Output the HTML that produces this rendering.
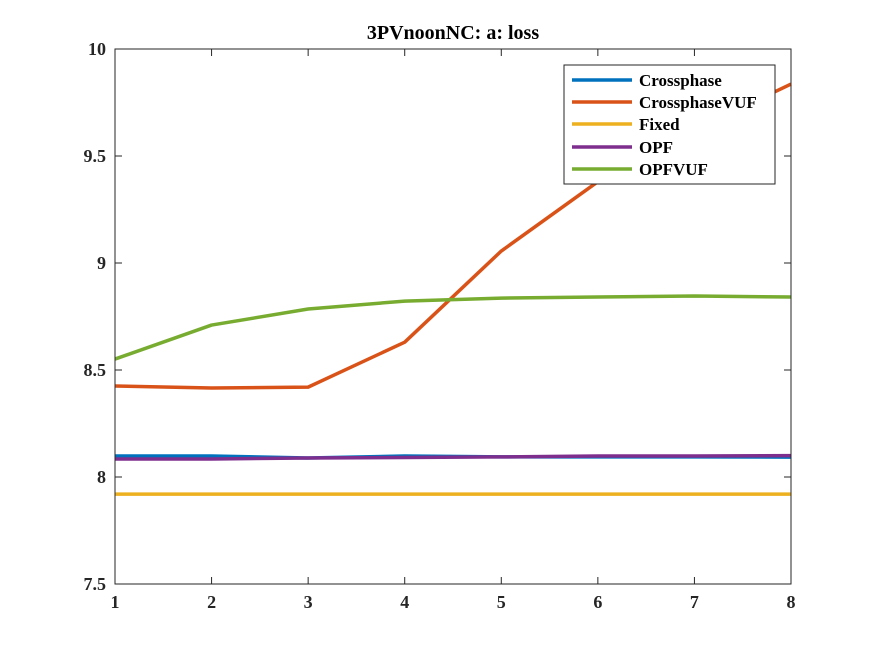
<!DOCTYPE html>
<html><head><meta charset="utf-8"><style>
html,body{margin:0;padding:0;background:#fff;}
svg{display:block;font-family:"Liberation Serif",serif;font-weight:bold;}
</style></head><body>
<svg id="chart" width="875" height="656"></svg>
<script>
const xCats=[1,2,3,4,5,6,7,8];
const yTicks=[7.5,8,8.5,9,9.5,10];
const seriesNames=["Crossphase","CrossphaseVUF","Fixed","OPF","OPFVUF"];
const seriesColors=["#0072BD","#D95319","#EDB120","#7E2F8E","#77AC30"];
const crossphase=[8.098,8.098,8.089,8.098,8.094,8.094,8.094,8.093];
const crossphaseVUF=[8.425,8.416,8.42,8.63,9.056,9.38,9.62,9.836];
const fixed=[7.92,7.92,7.92,7.92,7.92,7.92,7.92,7.92];
const opf=[8.084,8.084,8.089,8.091,8.094,8.098,8.098,8.10];
const opfvuf=[8.551,8.71,8.785,8.822,8.836,8.841,8.846,8.841];
const allSeries=[crossphase,crossphaseVUF,fixed,opf,opfvuf];
const NS="http://www.w3.org/2000/svg";
const svg=document.getElementById('chart');
const L=115,R=791,T=49,B=584;
const xs=v=>L+(v-1)/(8-1)*(R-L);
const ys=v=>B-(v-7.5)/(10-7.5)*(B-T);
function mk(tag,attrs,parent){const e=document.createElementNS(NS,tag);for(const k in attrs)e.setAttribute(k,attrs[k]);(parent||svg).appendChild(e);return e;}
const bg=mk('rect',{x:L,y:T,width:R-L,height:B-T,fill:'#fff'});


xCats.forEach(v=>{
 const x=xs(v);
 const t1=mk('line',{x1:x,y1:B,x2:x,y2:B-7,stroke:'#262626','stroke-width':1});
 
 
 const t2=mk('line',{x1:x,y1:T,x2:x,y2:T+7,stroke:'#262626','stroke-width':1});
 
 
 const tx=mk('text',{x:x,y:B+24,'text-anchor':'middle','font-size':18,fill:'#262626'});
 tx.textContent=v;
 
 
});
yTicks.forEach(v=>{
 const y=ys(v);
 const t1=mk('line',{x1:L,y1:y,x2:L+7,y2:y,stroke:'#262626','stroke-width':1});
 
 
 const t2=mk('line',{x1:R,y1:y,x2:R-7,y2:y,stroke:'#262626','stroke-width':1});
 
 
 const tx=mk('text',{x:L-9,y:y+6,'text-anchor':'end','font-size':18,fill:'#262626'});
 tx.textContent=v;
 
 
});
allSeries.forEach((s,i)=>{
 const pts=s.map((v,j)=>xs(xCats[j])+','+ys(v)).join(' ');
 const pl=mk('polyline',{points:pts,fill:'none',stroke:seriesColors[i],'stroke-width':3.5,'stroke-linejoin':'round'});
 
 
});
const box=mk('rect',{x:L,y:T,width:R-L,height:B-T,fill:'none',stroke:'#262626','stroke-width':1});


const title=mk('text',{x:453,y:39,'text-anchor':'middle','font-size':20,fill:'#000'});
title.textContent='3PVnoonNC: a: loss';


const lg=mk('g',{});


mk('rect',{x:564,y:65,width:211,height:119,fill:'#fff',stroke:'#262626','stroke-width':1},lg);
const ly=[80,102,124,147,169];
seriesNames.forEach((n,i)=>{
 const g=mk('g',{},lg);
 
 
 mk('line',{x1:572,y1:ly[i],x2:632,y2:ly[i],stroke:seriesColors[i],'stroke-width':3.5},g);
 const t=mk('text',{x:639,y:ly[i]+6,'font-size':17,fill:'#000'},g);
 t.textContent=n;
});
</script>
</body></html>
